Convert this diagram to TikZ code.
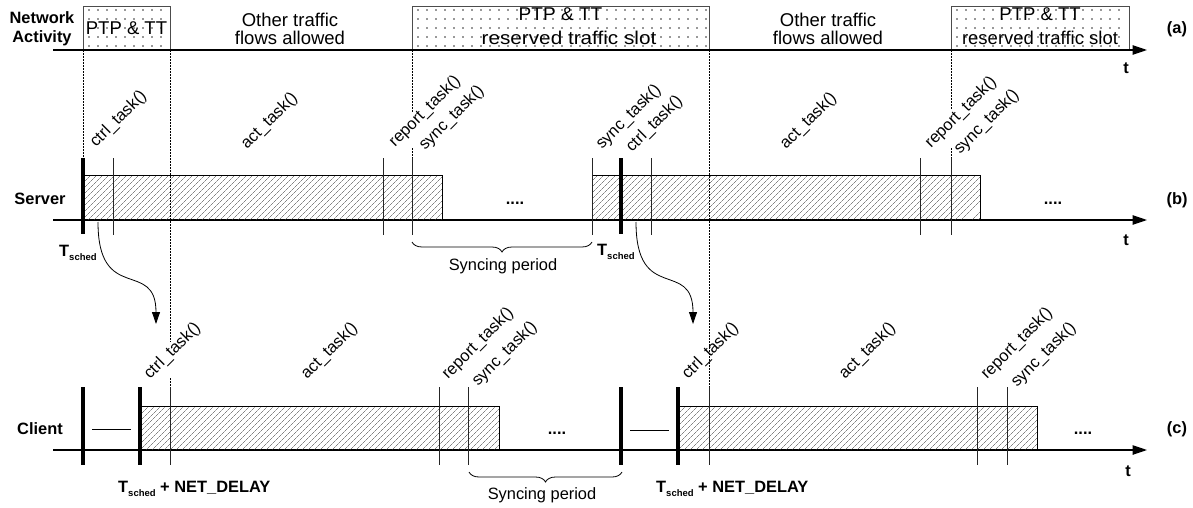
\documentclass[tikz,border=0pt]{standalone}
\usepackage{fontspec}
\setmainfont{Liberation Sans}
\usetikzlibrary{arrows.meta,patterns.meta,decorations.pathreplacing}
\tikzset{
 lbl/.style={font=\fontsize{16.4}{19}\selectfont, inner sep=0pt},
 toplbl/.style={font=\fontsize{18.5}{22}\selectfont, inner sep=0pt, anchor=base},
 boldlbl/.style={font=\bfseries\fontsize{16.4}{19}\selectfont, inner sep=0pt, anchor=base},
 task/.style={lbl, rotate=45, anchor=base west},
 axisline/.style={line width=1.2pt, -{Triangle[length=14.5pt,width=9.5pt]}},
 tickline/.style={line width=0.9pt, black!85},
 schedline/.style={line width=3.2pt},
 slotbox/.style={draw=black!70, line width=0.9pt},
 guide/.style={line width=0.9pt, dash pattern=on 1.6pt off 1.4pt},
 taskbar/.style={draw, line width=0.8pt, pattern={Lines[angle=45,distance=4pt,line width=0.45pt]}, pattern color=black!75},
 flow/.style={line width=0.8pt, -{Triangle[length=12pt,width=8pt]}},
 syncbrace/.style={decorate, decoration={brace,mirror,amplitude=10pt}, line width=0.8pt},
 dotc/.style={fill=black!40},
}
\newcommand{\tsched}{T\raisebox{-0.3em}{\fontsize{9.5}{10}\selectfont sched}}
\begin{document}
\begin{tikzpicture}[x=1pt,y=-1pt]
\useasboundingbox (0,0) rectangle (1193,508);

% ---- reserved slots (dotted fill) ----
\foreach \l/\r in {83/170,412/709,951/1129}{
  \pgfmathtruncatemacro{\s}{\l+6}
  \pgfmathtruncatemacro{\t}{\l+15}
  \pgfmathtruncatemacro{\e}{\r-3}
  \foreach \x in {\s,\t,...,\e}{
    \foreach \y in {10,19,28,37,46}{
      \fill[dotc] (\x-0.55,\y-0.55) rectangle (\x+0.55,\y+0.55);
    }
  }
  \draw[slotbox] (\l,50) -- (\l,6) -- (\r,6) -- (\r,50);
}

% ---- axes ----
\coordinate (a0) at (53,50);  \coordinate (a1) at (1147,50);
\coordinate (b0) at (53,220); \coordinate (b1) at (1147,220);
\coordinate (c0) at (53,450); \coordinate (c1) at (1147,450);
\draw[axisline] (a0) -- (a1);
\draw[axisline] (b0) -- (b1);
\draw[axisline] (c0) -- (c1);

% ---- task bars ----
\draw[taskbar] (83,175) rectangle (442,220);
\draw[taskbar] (592,175) rectangle (980,220);
\draw[taskbar] (140,406) rectangle (499,450);
\draw[taskbar] (678,406) rectangle (1037,450);

% ---- ticks ----
\foreach \x in {113,383,412,592,651,920,951}{\draw[tickline] (\x,158) -- (\x,235);}
\foreach \x in {83,621}{\draw[schedline] (\x,158) -- (\x,234);}
\foreach \x in {170,439,468,709,977,1007}{\draw[tickline] (\x,387) -- (\x,465);}
\foreach \x in {83,140,621,678}{\draw[schedline] (\x,387) -- (\x,465);}
\draw[line width=0.9pt] (92,429) -- (131,429);
\draw[line width=0.9pt] (630,430) -- (669,430);

% ---- guides ----
\draw[guide] (83,50) -- (83,158);
\draw[guide] (170,50) -- (170,342);
\draw[guide] (170,378) -- (170,387);
\draw[guide] (412,50) -- (412,112);
\draw[guide] (412,148) -- (412,158);
\draw[guide] (709,50) -- (709,387);
\draw[guide] (951,50) -- (951,109);
\draw[guide] (951,148) -- (951,158);

% ---- top labels ----
\node[boldlbl] (na) at (42,24) {Network};
\node[boldlbl] (nb) at (42,43) {Activity};
\node[toplbl] (p1) at (126.5,35) {PTP \& TT};
\node[toplbl] (p2) at (560.5,21) {\scalebox{1.03}[1]{PTP \& TT}};
\node[toplbl] (r2) at (569,45) {\scalebox{1.12}[1]{reserved traffic slot}};
\node[toplbl] (p3) at (1040,21) {PTP \& TT};
\node[toplbl] (r3) at (1040,45) {reserved traffic slot};
\node[toplbl] (o1) at (290,26.5) {Other traffic};
\node[toplbl] (f1) at (290,45) {flows allowed};
\node[toplbl] (o2) at (828,26.5) {Other traffic};
\node[toplbl] (f2) at (828,45) {flows allowed};
\node[boldlbl] (la) at (1177,33.5) {(a)};
\node[boldlbl] (ta) at (1126,74) {t};

% ---- server ----
\node[boldlbl] (srv) at (40,204) {Server};
\node[boldlbl] (lb) at (1177,204) {(b)};
\node[boldlbl] (tb) at (1126,245) {t};
\node[task] (s1) at (96,148) {ctrl\_task()};
\node[task] (s2) at (247,150) {act\_task()};
\node[task] (s3) at (395,148) {report\_task()};
\node[task] (s4) at (425,151) {sync\_task()};
\node[task] (s5) at (602,150) {sync\_task()};
\node[task] (s6) at (632,153) {ctrl\_task()};
\node[task] (s7) at (786,150) {act\_task()};
\node[task] (s8) at (931,149) {report\_task()};
\node[task] (s9) at (960,155) {sync\_task()};
\node[boldlbl] (sd1) at (515,204) {....};
\node[boldlbl] (sd2) at (1053,204) {....};
\node[boldlbl, anchor=base west] (ts1) at (59,256) {\tsched};
\node[boldlbl, anchor=base west] (ts2) at (597,255) {\tsched};
\coordinate (sb0) at (412,242); \coordinate (sb1) at (592,242);
\draw[syncbrace] (sb0) -- (sb1);
\node[lbl, anchor=base] (sp1) at (503,270) {Syncing period};

% ---- client ----
\node[boldlbl] (cli) at (40,434) {Client};
\node[boldlbl] (lc) at (1177,433) {(c)};
\node[boldlbl] (tc) at (1128,476) {t};
\node[task] (c1) at (150,380) {ctrl\_task()};
\node[task] (c2) at (307,380) {act\_task()};
\node[task] (c3) at (448,380) {report\_task()};
\node[task] (c4) at (478,387) {sync\_task()};
\node[task] (c5) at (688,380) {ctrl\_task()};
\node[task] (c6) at (845,380) {act\_task()};
\node[task] (c7) at (987,380) {report\_task()};
\node[task] (c8) at (1017,388) {sync\_task()};
\node[boldlbl] (cd1) at (557,434) {....};
\node[boldlbl] (cd2) at (1083,434) {....};
\node[boldlbl, anchor=base west] (tn1) at (118,492) {\tsched{} + NET\_DELAY};
\node[boldlbl, anchor=base west] (tn2) at (656,492) {\tsched{} + NET\_DELAY};
\coordinate (cb0) at (469,472); \coordinate (cb1) at (622,472);
\draw[syncbrace] (cb0) -- (cb1);
\node[lbl, anchor=base] (sp2) at (542,499) {Syncing period};

% ---- arrows server -> client ----
\coordinate (fs1) at (98,222); \coordinate (fe1) at (156,324);
\coordinate (fs2) at (636,222); \coordinate (fe2) at (693,324);
\draw[flow] (fs1) .. controls (98,305) and (156,258) .. (fe1);
\draw[flow] (fs2) .. controls (636,305) and (693,258) .. (fe2);
\end{tikzpicture}
\end{document}
